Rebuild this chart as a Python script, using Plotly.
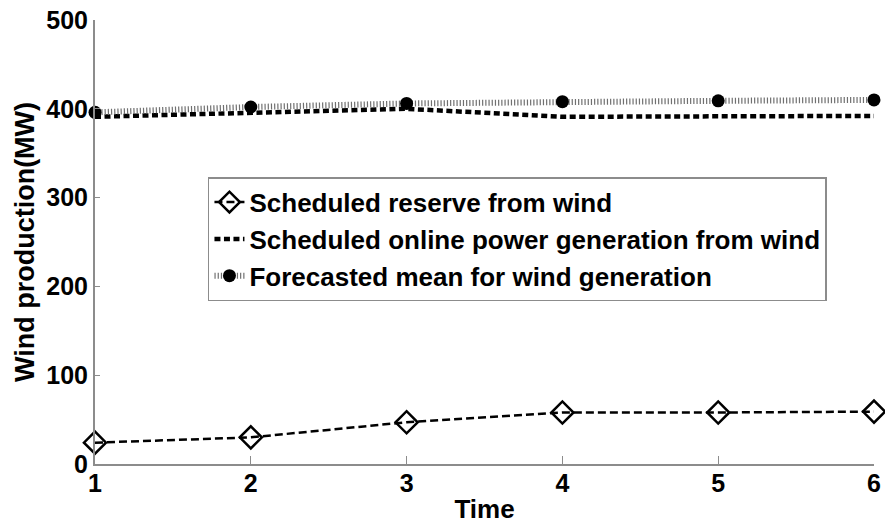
import plotly.graph_objects as go

time = [1, 2, 3, 4, 5, 6]
reserve = [24, 30, 47, 58, 58, 59]
online = [391, 396, 400, 391, 392, 392]
forecast = [396, 402, 406, 408, 409, 410]

names = [
    "Scheduled reserve from wind",
    "Scheduled online power generation from wind",
    "Forecasted mean for wind generation",
]

FONT = "Liberation Sans, Arial, sans-serif"
AXC = "#8c8c8c"

fig = go.Figure()
fig.add_trace(go.Scatter(
    x=time, y=reserve, name=names[0], mode="lines+markers",
    line=dict(color="black", width=2.5, dash="8px,4px"),
    marker=dict(symbol="diamond-open", size=17, color="black",
                line=dict(color="black", width=2.5)),
    cliponaxis=False,
))
fig.add_trace(go.Scatter(
    x=time, y=online, name=names[1], mode="lines",
    line=dict(color="black", width=4.5, dash="6px,3.5px"),
    cliponaxis=False,
))
fig.add_trace(go.Scatter(
    x=time, y=forecast, name=names[2], mode="lines+markers",
    line=dict(color="#707070", width=6, dash="1.2px,2px"),
    marker=dict(symbol="circle", size=13, color="black"),
    cliponaxis=False,
))

fig.update_layout(
    width=885, height=524,
    margin=dict(l=95, r=11, t=19.5, b=59.5, autoexpand=False),
    paper_bgcolor="white", plot_bgcolor="white",
    font=dict(family=FONT, size=25, color="black", weight="bold"),
    showlegend=True,
    legend=dict(
        x=0.145, y=0.646, xanchor="left", yanchor="top",
        bgcolor="white", bordercolor=AXC, borderwidth=1.5,
        font=dict(family=FONT, size=26, color="black", weight="bold"),
        itemwidth=30, tracegroupgap=0,
    ),
    xaxis=dict(
        range=[1, 6], tickvals=time, ticktext=[str(t) for t in time],
        showgrid=False, zeroline=False, automargin=False,
        showline=True, linecolor=AXC, linewidth=2,
        ticks="inside", ticklen=8, tickwidth=1, tickcolor=AXC,
        ticklabelstandoff=-4,
        tickfont=dict(family=FONT, size=25, color="black", weight="bold"),
        title=dict(text="Time", standoff=15,
                   font=dict(family=FONT, size=26, color="black", weight="bold")),
    ),
    yaxis=dict(
        range=[0, 500], tickvals=[0, 100, 200, 300, 400, 500],
        showgrid=False, zeroline=False, automargin=False,
        showline=True, linecolor=AXC, linewidth=2,
        ticks="inside", ticklen=5, tickwidth=1, tickcolor=AXC,
        tickfont=dict(family=FONT, size=25, color="black", weight="bold"),
        title=dict(text="Wind production(MW)", standoff=4,
                   font=dict(family=FONT, size=27, color="black", weight="bold")),
    ),
)

fig.write_html("out.html")
